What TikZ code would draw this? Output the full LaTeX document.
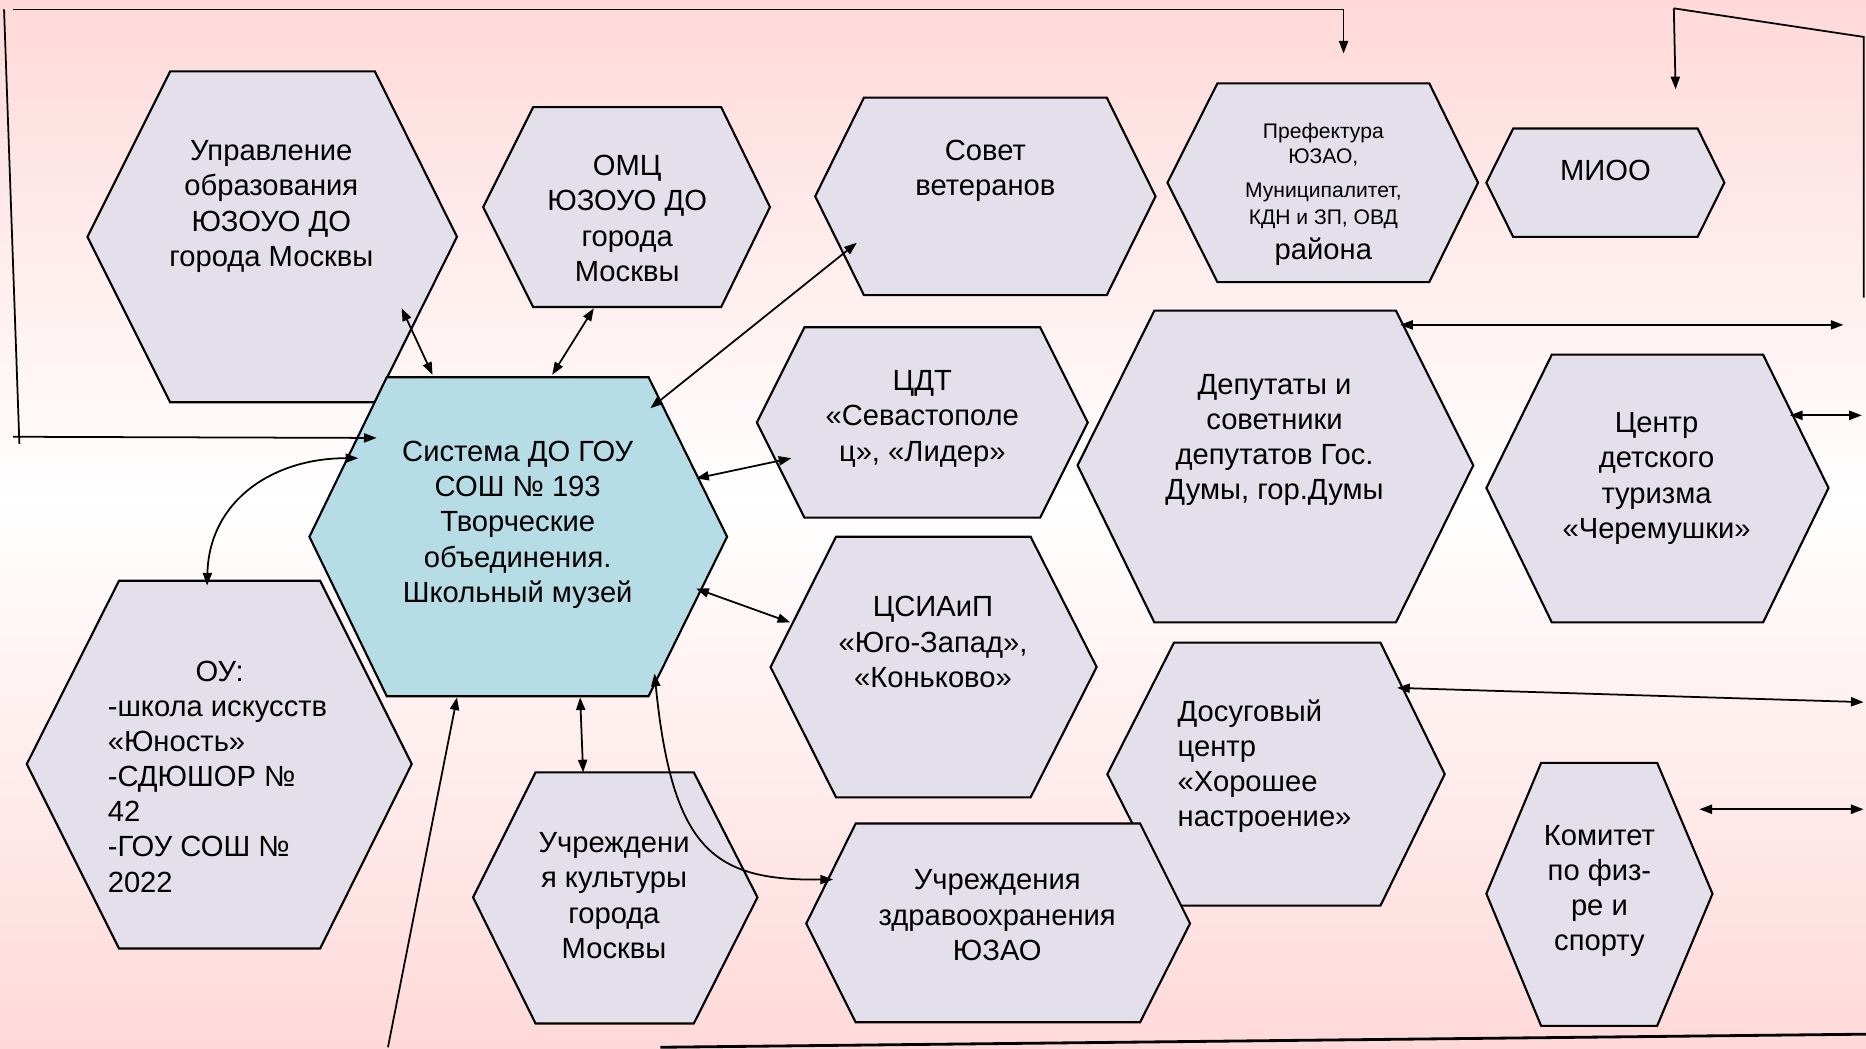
\documentclass[tikz,border=0pt]{standalone}
\usepackage{fontspec}
\setmainfont{Liberation Sans}
\usetikzlibrary{arrows.meta}

\definecolor{fonpink}{RGB}{255,217,217}
\definecolor{hexfill}{RGB}{227,223,235}
\definecolor{sysfill}{RGB}{182,220,230}

\tikzset{
  hexbox/.style={draw=black,line width=0.6pt,fill=hexfill},
  hextext/.style={align=center,font=\fontsize{8.3}{10}\selectfont,inner sep=0pt},
  link/.style={line width=0.5pt,{Triangle[length=3.6pt,width=2.6pt]}-{Triangle[length=3.6pt,width=2.6pt]}},
  linkto/.style={line width=0.5pt,-{Triangle[length=3.6pt,width=2.6pt]}},
  frameline/.style={line width=0.5pt},
}

% hexagon: top-left x, top-right x, left x, right x, top y, middle y, bottom y
\newcommand{\hexa}[8][hexbox]{\draw[#1] (#2,#6) -- (#3,#6) -- (#5,#7) -- (#3,#8) -- (#2,#8) -- (#4,#7) -- cycle;}

\begin{document}
\begin{tikzpicture}[x=0.119mm,y=-0.119mm]
	\useasboundingbox (0,0) rectangle (1568,881);
	% fon
	\shade[top color=fonpink,bottom color=white] (0,0) rectangle (1568,420);
	\shade[top color=white,bottom color=fonpink] (0,420) rectangle (1568,881);

	% shestiugolniki
	\hexa{143}{315}{73.5}{384}{60}{199}{338}
	\hexa{448}{606}{406}{647}{90}{174}{258}
	\hexa{726}{930}{685}{971}{82}{165}{248}
	\hexa{1023}{1201}{981}{1242}{70}{153.5}{237}
	\hexa{1271.5}{1426.5}{1249}{1449}{108}{153.5}{199}
	\hexa[hexbox,fill=sysfill]{325}{545}{260}{611}{317}{451}{585}
	\hexa{676}{874}{636}{914}{275}{355}{435}
	\hexa{970}{1173}{905.5}{1238}{261}{391}{523}
	\hexa{1304}{1481.5}{1249}{1536.5}{298}{410}{523}
	\hexa{702.5}{866}{647.5}{921.5}{451}{560.5}{670}
	\hexa{986.5}{1160}{930.5}{1214}{540}{650.5}{761}
	\hexa{450}{583}{397.5}{636.5}{649}{754}{860}
	\hexa{719}{958}{677.5}{1000}{692}{776}{859}
	\hexa{100}{269}{22.5}{346}{488}{642}{797}
	\hexa{1295}{1392.5}{1249}{1439}{641}{751}{862}

	% teksty
	\node[hextext] (upr) at (228,173.5) {Управление\\образования\\ЮЗОУО ДО\\города Москвы};
	\node[hextext] (omc) at (527,183.5) {ОМЦ\\ЮЗОУО ДО\\города\\Москвы};
	\node[hextext] (sovet) at (828,143.5) {Совет\\ветеранов};
	\node[hextext,font=\fontsize{6}{7.2}\selectfont] (pref) at (1112,163.5) {Префектура\\ЮЗАО,\\[2.3pt]Муниципалитет,\\[0.6pt]КДН и ЗП, ОВД\\[1.6pt]{\fontsize{8.3}{10}\selectfont района}};
	\node[hextext] (mioo) at (1349,143) {МИОО};
	\node[hextext] (sys) at (435,441) {Система ДО ГОУ\\СОШ № 193\\Творческие\\объединения.\\Школьный музей};
	\node[hextext] (cdt) at (775,352) {ЦДТ\\«Севастополе\\ц», «Лидер»};
	\node[hextext] (dep) at (1071,369.5) {Депутаты и\\советники\\депутатов Гос.\\Думы, гор.Думы};
	\node[hextext] (turizm) at (1392,402) {Центр\\детского\\туризма\\«Черемушки»};
	\node[hextext] (csiaip) at (784,539.5) {ЦСИАиП\\«Юго-Запад»,\\«Коньково»};
	\node[hextext,align=left,anchor=west] (dosug) at (989,644) {Досуговый\\центр\\«Хорошее\\настроение»};
	\node[hextext] (kult) at (516,752.5) {Учреждени\\я культуры\\города\\Москвы};
	\node[hextext] (zdrav) at (838,769) {Учреждения\\здравоохранения\\ЮЗАО};
	\node[hextext,align=left,anchor=west] (ou) at (90,652.5) {\hspace*{25pt}ОУ:\\-школа искусств\\«Юность»\\-СДЮШОР №\\42\\-ГОУ СОШ №\\2022};
	\node[hextext] (komitet) at (1344,748.5) {Комитет\\по физ-\\ре и\\спорту};

	% tochki strelok
	\coordinate (upr-a) at (337.5,259);
	\coordinate (sys-upr) at (363.5,315);
	\coordinate (omc-a) at (499,259);
	\coordinate (sys-omc) at (464,315);
	\coordinate (sovet-a) at (720,204);
	\coordinate (sys-sovet) at (546.5,343);
	\coordinate (cdt-a) at (665,385);
	\coordinate (sys-cdt) at (585,402);
	\coordinate (csiaip-a) at (664,523);
	\coordinate (sys-csiaip) at (585,494.6);
	\coordinate (sys-kult) at (487.5,586);
	\coordinate (kult-a) at (490,649);
	\coordinate (sys-zdrav) at (550,566);
	\coordinate (zdrav-a) at (700,739);
	\coordinate (ou-a) at (174,492);
	\coordinate (sys-ou) at (301,385);
	\coordinate (sys-left) at (316.5,368);
	\coordinate (sys-bottom) at (384,586);
	\coordinate (pref-a) at (1129,45);
	\coordinate (mioo-a) at (1408,75);
	\coordinate (dep-a) at (1176.5,273);
	\coordinate (dep-out) at (1549,273);
	\coordinate (turizm-a) at (1504,349);
	\coordinate (turizm-out) at (1564.5,349);
	\coordinate (dosug-a) at (1174,578);
	\coordinate (dosug-out) at (1566,590);
	\coordinate (komitet-a) at (1428,680);
	\coordinate (komitet-out) at (1566,680);
	% ramka
	\coordinate (lt) at (11,8);
	\coordinate (lv1) at (3.4,7.8);
	\coordinate (lv2) at (16.3,373);
	\coordinate (lh) at (11,367);
	\coordinate (rt) at (1406.5,7);
	\coordinate (rc) at (1566,31);
	\coordinate (rb) at (1566,250);
	\coordinate (bl) at (326,880);
	\coordinate (bs) at (555,880);
	\coordinate (be) at (1568,869);

	% svyazi
	\draw[link] (upr-a) -- (sys-upr);
	\draw[link] (omc-a) -- (sys-omc);
	\draw[link] (sovet-a) -- (sys-sovet);
	\draw[link] (cdt-a) -- (sys-cdt);
	\draw[link] (csiaip-a) -- (sys-csiaip);
	\draw[link] (sys-kult) -- (kult-a);
	\draw[link] (sys-zdrav) .. controls (565,715) and (600,740) .. (zdrav-a);
	\draw[link] (ou-a) .. controls (176,420) and (230,385) .. (sys-ou);
	\draw[link] (dep-a) -- (dep-out);
	\draw[link] (turizm-a) -- (turizm-out);
	\draw[link] (dosug-a) -- (dosug-out);
	\draw[link] (komitet-a) -- (komitet-out);

	% linii ramki
	\draw[frameline] (lv1) -- (lv2);
	\draw[linkto] (lh) -- (sys-left);
	\draw[linkto] (lt) -- (1129,8) -- (pref-a);
	\draw[frameline] (rb) -- (rc) -- (rt);
	\draw[linkto] (rt) -- (mioo-a);
	\draw[linkto] (bl) -- (sys-bottom);
	\draw[frameline,line width=0.8pt] (bs) -- (be);
\end{tikzpicture}
\end{document}
